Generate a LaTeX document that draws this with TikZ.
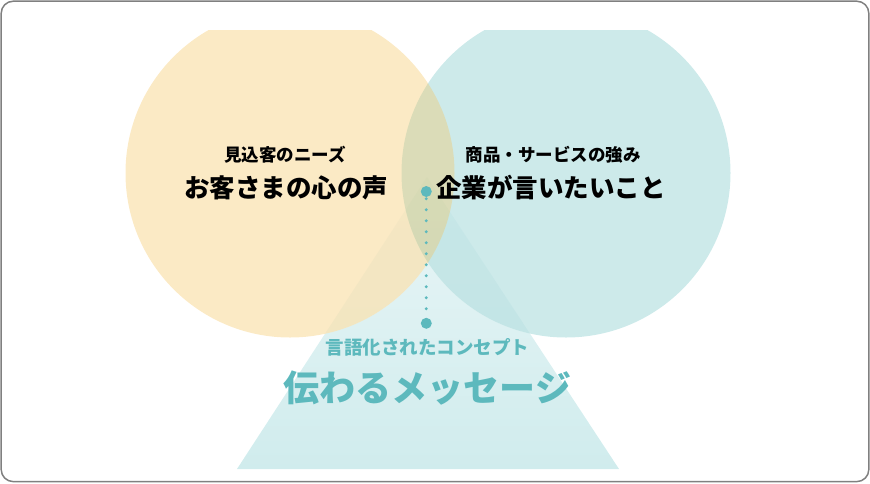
\documentclass[tikz,border=0pt]{standalone}
\usepackage{fontspec}
\newfontfamily\jp{Noto Sans CJK JP}
\definecolor{tealc}{RGB}{93,185,189}
\definecolor{circteal}{RGB}{91,186,187}
\definecolor{circyel}{RGB}{245,195,90}
\definecolor{tritop}{RGB}{234,246,247}
\definecolor{tribot}{RGB}{208,236,237}
\definecolor{framec}{RGB}{128,128,128}
\tikzset{
  bigcirc/.style={circle, minimum size=329pt, inner sep=0pt, draw=none},
  bigdot/.style={circle, minimum size=11pt, inner sep=0pt, fill=tealc},
  smalltxt/.style={font=\jp\bfseries\fontsize{17.5pt}{20pt}\selectfont, text=black, inner sep=0pt},
  largetxt/.style={font=\jp\bfseries\fontsize{25.5pt}{30pt}\selectfont, text=black, inner sep=0pt},
  dotline/.style={draw=tealc, line width=3.3pt, line cap=round, dash pattern=on 0pt off 11pt, dash phase=3.8pt},
}
\begin{document}
\begin{tikzpicture}[x=1pt,y=-1pt]
\useasboundingbox (0,0) rectangle (870,483);
% triangle
\shade[top color=tritop, bottom color=tribot] (427,177) -- (237,469) -- (619,469) -- cycle;
% circles
\begin{scope}
\clip (0,30.5) rectangle (870,483);
\fill[white, fill opacity=0.6] (566,173) circle[radius=164.5pt] (290,173) circle[radius=164.5pt];
\node[bigcirc, fill=circteal, fill opacity=0.3] (cr) at (566,173) {};
\node[bigcirc, fill=circyel, fill opacity=0.35] (cl) at (290,173) {};
\end{scope}
% frame
\draw[framec, line width=1.5pt, rounded corners=12pt] (1.2,1.2) rectangle (868.8,481.6);
% dots
\node[bigdot] (dtop) at (426.3,191.5) {};
\node[bigdot] (dbot) at (426.3,323.3) {};
\draw[dotline] (dtop.center) -- (dbot.center);
% texts
\node[smalltxt] (t1) at (285,155) {見込客のニーズ};
\node[largetxt] (t2) at (286,188) {お客さまの心の声};
\node[smalltxt] (t3) at (553,155) {商品・サービスの強み};
\node[largetxt] (t4) at (551,188) {企業が言いたいこと};
\node[font=\jp\bfseries\fontsize{18.5pt}{22pt}\selectfont, text=tealc, inner sep=0pt] (t5) at (427.5,347) {言語化されたコンセプト};
\node[font=\jp\bfseries\fontsize{36pt}{42pt}\selectfont, text=tealc, inner sep=0pt] (t6) at (427.5,388) {伝わるメッセージ};
\end{tikzpicture}
\end{document}
